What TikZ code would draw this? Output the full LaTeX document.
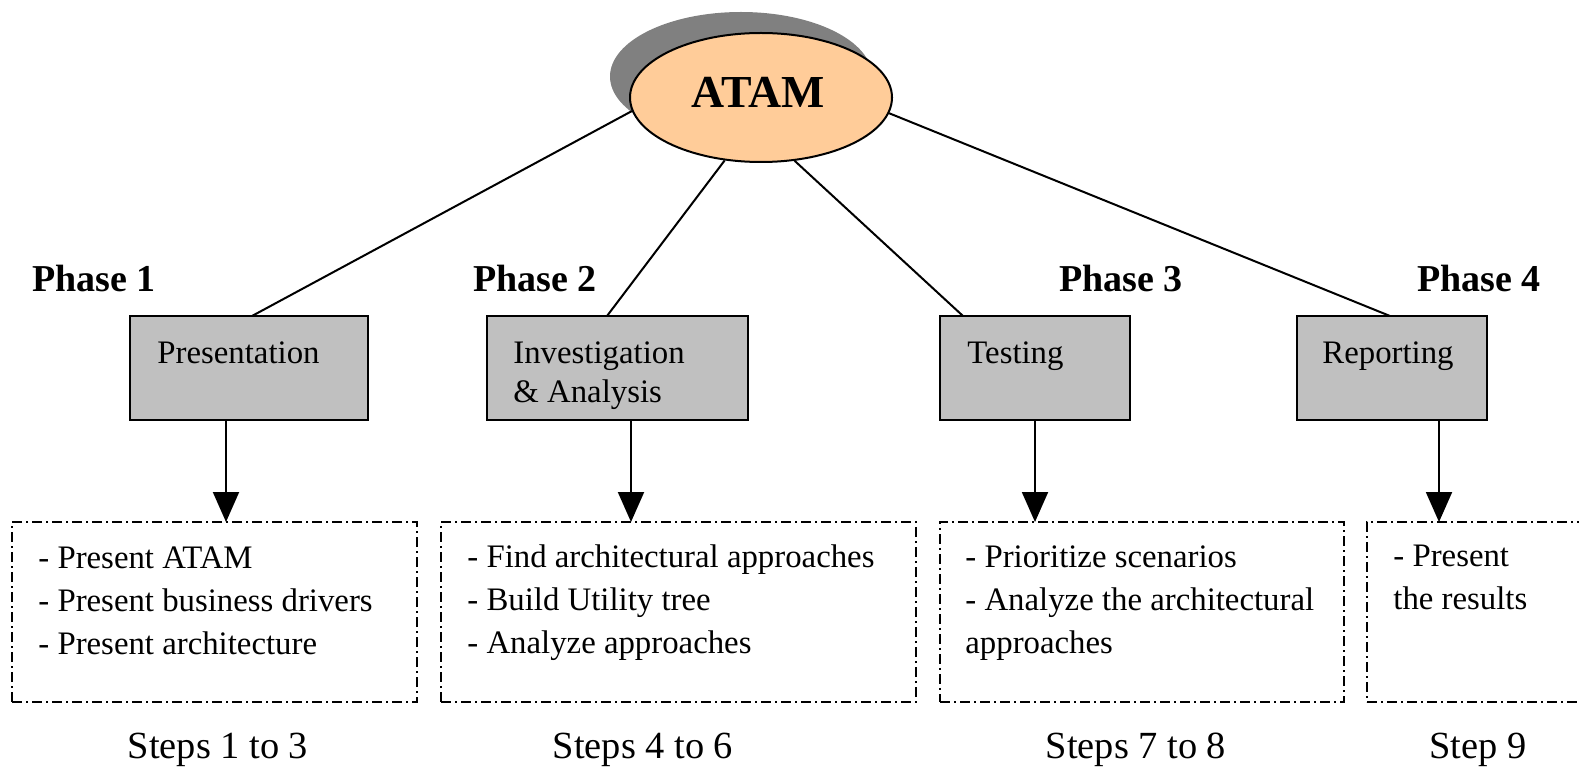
\documentclass[tikz,border=0pt]{standalone}
\usepackage{fontspec}
\setmainfont{Liberation Serif}
\usetikzlibrary{arrows.meta,calc,shapes.geometric}
\definecolor{peach}{HTML}{FFCC99}
\definecolor{shadowgray}{HTML}{808080}
\definecolor{boxgray}{HTML}{C0C0C0}
\begin{document}
\begin{tikzpicture}[x=0.5pt,y=-0.5pt,
  gbox/.style={draw=black,line width=1pt,fill=boxgray,rectangle,inner sep=0pt,outer sep=0pt,anchor=north west,minimum height=52pt},
  dbox/.style={draw=black,line width=0.9pt,dash pattern=on 5pt off 2pt on 1pt off 2pt,rectangle,inner sep=0pt,outer sep=0pt,anchor=north west,minimum height=90pt},
  boxtext/.style={inner sep=0pt,anchor=base west,align=left,font=\fontsize{16.4}{19.5}\selectfont},
  listtext/.style={inner sep=0pt,anchor=base west,font=\fontsize{16.4}{21.5}\selectfont},
  phaselbl/.style={inner sep=0pt,anchor=base west,font=\fontsize{19}{23}\selectfont\bfseries},
  steplbl/.style={inner sep=0pt,anchor=base,font=\fontsize{19.2}{23}\selectfont},
  conn/.style={draw=black,line width=1pt},
  arr/.style={draw=black,line width=1pt,-{Triangle[length=15pt,width=13pt]}}
]
\useasboundingbox (0,0) rectangle (1579,770);
\clip (0,0) rectangle (1579,770);

% ATAM ellipse with shadow
\node[ellipse,fill=shadowgray,minimum width=131pt,minimum height=64.5pt,inner sep=0pt] (shadow) at (741,76.5) {};
\node[ellipse,draw=black,line width=1pt,fill=peach,minimum width=131pt,minimum height=64.5pt,inner sep=0pt] (atam) at (761,97.5) {};
\node[inner sep=0pt,anchor=base,font=\fontsize{22.9}{27}\selectfont\bfseries] (atamtxt) at (758,108) {ATAM};

% gray boxes
\node[gbox,minimum width=119pt] (b1) at (130,316) {};
\node[gbox,minimum width=130.5pt] (b2) at (487,316) {};
\node[gbox,minimum width=95pt] (b3) at (940,316) {};
\node[gbox,minimum width=95pt] (b4) at (1297,316) {};

\node[boxtext] (t1) at (157,363) {Presentation};
\node[boxtext] (t2) at (513,363) {\begin{tabular}[t]{@{}l@{}}Investigation\\\& Analysis\end{tabular}};
\node[boxtext] (t3) at (967,363) {Testing};
\node[boxtext] (t4) at (1322,363) {Reporting};

% phase labels
\node[phaselbl] (p1) at (32,292) {Phase 1};
\node[phaselbl] (p2) at (473,292) {Phase 2};
\node[phaselbl] (p3) at (1059,292) {Phase 3};
\node[phaselbl] (p4) at (1417,292) {Phase 4};

% connectors from ATAM
\coordinate (b1top) at ($(b1.north west)+(122,0)$);
\coordinate (b2top) at ($(b2.north west)+(120,0)$);
\coordinate (b3top) at ($(b3.north west)+(23,0)$);
\coordinate (b4top) at ($(b4.north west)+(93,0)$);
\draw[conn] (atam.186) -- (b1top);
\draw[conn] (atam.240) -- (b2top);
\draw[conn] (atam.298) -- (b3top);
\draw[conn] (atam.353) -- (b4top);

% dashed boxes
\node[dbox,minimum width=202.5pt] (d1) at (12,522) {};
\node[dbox,minimum width=237.5pt] (d2) at (441,522) {};
\node[dbox,minimum width=202pt] (d3) at (940,522) {};
\node[dbox,minimum width=150pt] (d4) at (1367,522) {};

% arrows
\coordinate (b1bot) at ($(b1.south west)+(96,0)$);
\coordinate (b2bot) at ($(b2.south west)+(144,0)$);
\coordinate (b3bot) at ($(b3.south west)+(95,0)$);
\coordinate (b4bot) at ($(b4.south west)+(142,0)$);
\draw[arr] (b1bot) -- (b1bot |- d1.north);
\draw[arr] (b2bot) -- (b2bot |- d2.north);
\draw[arr] (b3bot) -- (b3bot |- d3.north);
\draw[arr] (b4bot) -- (b4bot |- d4.north);

% list texts
\node[listtext] (l1) at (38,568) {\begin{tabular}[t]{@{}l@{}}- Present ATAM\\- Present business drivers\\- Present architecture\end{tabular}};
\node[listtext] (l2) at (467,567) {\begin{tabular}[t]{@{}l@{}}- Find architectural approaches\\- Build Utility tree\\- Analyze approaches\end{tabular}};
\node[listtext] (l3) at (965,567) {\begin{tabular}[t]{@{}l@{}}- Prioritize scenarios\\- Analyze the architectural\\approaches\end{tabular}};
\node[listtext] (l4) at (1393,566) {\begin{tabular}[t]{@{}l@{}}- Present\\the results\end{tabular}};

% step labels
\node[steplbl] (s1) at (218,758) {Steps 1 to 3};
\node[steplbl] (s2) at (643,758) {Steps 4 to 6};
\node[steplbl] (s3) at (1136,758) {Steps 7 to 8};
\node[steplbl] (s4) at (1478,758) {Step 9};
\end{tikzpicture}
\end{document}
